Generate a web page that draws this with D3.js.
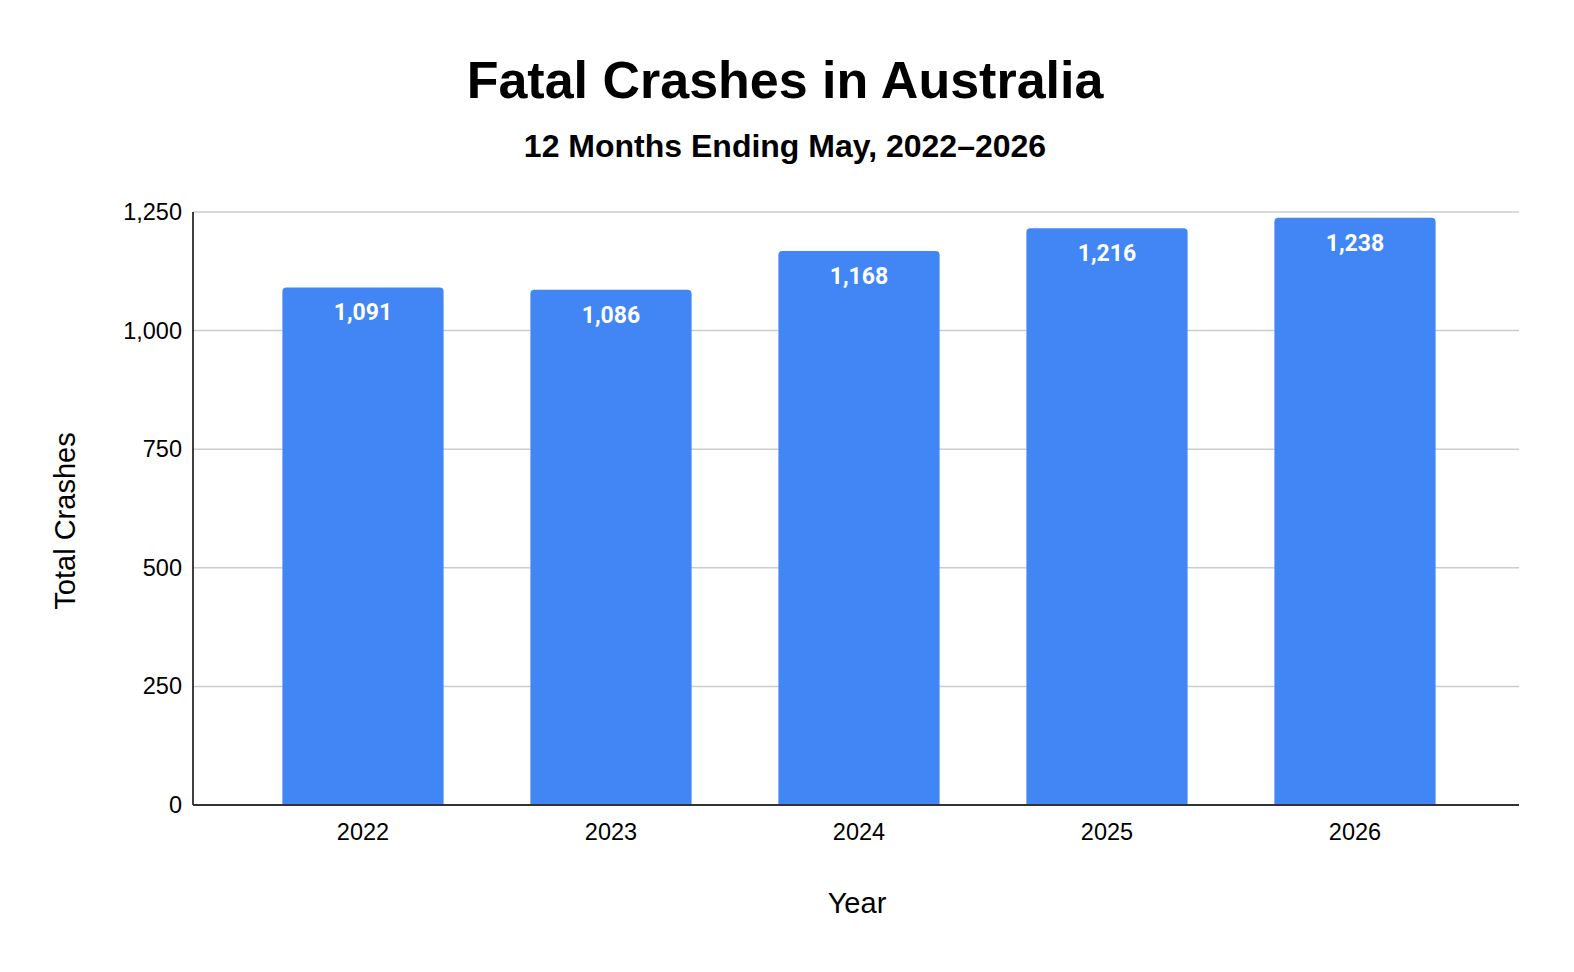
<!DOCTYPE html>
<html><head><meta charset="utf-8">
<script src="https://cdn.jsdelivr.net/npm/d3@7"></script>
<style>body{margin:0;background:#fff}</style>
</head><body>
<script>
const years = ["2022","2023","2024","2025","2026"];
const crashes = [1091, 1086, 1168, 1216, 1238];
const yTicks = [0, 250, 500, 750, 1000, 1250];
const title = "Fatal Crashes in Australia";
const subtitle = "12 Months Ending May, 2022–2026";
const xTitle = "Year";
const yTitle = "Total Crashes";

const W = 1574, H = 972;
const svg = d3.select("body").append("svg").attr("width", W).attr("height", H);
const plotL = 193, plotR = 1519, plotT = 212, plotB = 805;

const x = d3.scaleBand().domain(years).range([239, 1479]).paddingInner(0.35).paddingOuter(0.175);
const y = d3.scaleLinear().domain([0, 1250]).range([plotB, plotT]);

const font = "'Liberation Sans', Arial, sans-serif";

svg.append("text").attr("x", 785).attr("y", 98).attr("text-anchor", "middle")
  .style("font-family", font).style("font-weight", "bold").style("font-size", "52px").text(title);
svg.append("text").attr("x", 785).attr("y", 157).attr("text-anchor", "middle")
  .style("font-family", font).style("font-weight", "bold").style("font-size", "32px").text(subtitle);

// gridlines
svg.append("g").selectAll("line").data(yTicks.filter(d => d > 0)).join("line")
  .attr("x1", plotL).attr("x2", plotR).attr("y1", d => y(d)).attr("y2", d => y(d))
  .attr("stroke", "#cccccc").attr("stroke-width", 1.5);

// y axis labels
const yAxis = d3.axisLeft(y).tickValues(yTicks).tickSize(0).tickPadding(11).tickFormat(d3.format(","));
const gy = svg.append("g").attr("transform", `translate(${plotL},0)`).call(yAxis);
gy.select(".domain").remove();
gy.selectAll("text").style("font-family", font).style("font-size", "23.5px").attr("fill", "#000");

// bars with rounded top corners
const r = 4;
svg.append("g").selectAll("path").data(years).join("path")
  .attr("fill", "#4285f4")
  .attr("d", (d, i) => {
    const x0 = x(d), x1 = x(d) + x.bandwidth(), yt = y(crashes[i]), yb = y(0);
    return `M${x0},${yb}V${yt + r}Q${x0},${yt} ${x0 + r},${yt}H${x1 - r}Q${x1},${yt} ${x1},${yt + r}V${yb}Z`;
  });

// value labels
svg.append("g").selectAll("text").data(years).join("text")
  .attr("x", d => x(d) + x.bandwidth() / 2)
  .attr("y", (d, i) => y(crashes[i]) + 33)
  .attr("text-anchor", "middle").attr("fill", "#fff")
  .style("font-family", "Roboto, sans-serif").style("font-weight", "bold").style("font-size", "23px")
  .text((d, i) => d3.format(",")(crashes[i]));

// y axis line
svg.append("line").attr("x1", plotL).attr("x2", plotL).attr("y1", plotT).attr("y2", plotB)
  .attr("stroke", "#000").attr("stroke-width", 1.5);

// x axis
const xAxis = d3.axisBottom(x).tickSize(0).tickPadding(18);
const gx = svg.append("g").attr("transform", `translate(0,${plotB})`).call(xAxis);
gx.select(".domain").remove();
gx.selectAll("text").style("font-family", font).style("font-size", "23.5px").attr("fill", "#000");
svg.append("line").attr("x1", plotL).attr("x2", plotR).attr("y1", plotB).attr("y2", plotB)
  .attr("stroke", "#333").attr("stroke-width", 2);

svg.append("text").attr("x", 857).attr("y", 913).attr("text-anchor", "middle")
  .style("font-family", font).style("font-size", "29px").text(xTitle);
svg.append("text").attr("transform", "translate(75,521) rotate(-90)").attr("text-anchor", "middle")
  .style("font-family", font).style("font-size", "29px").text(yTitle);
</script>
</body></html>
